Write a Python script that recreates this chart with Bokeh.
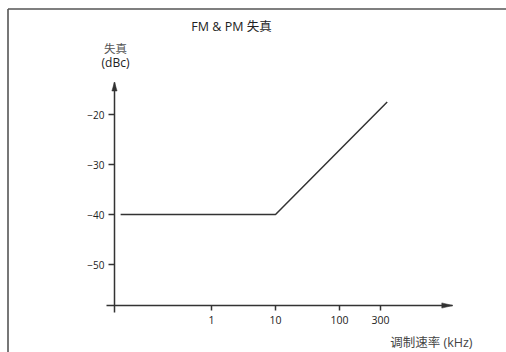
from bokeh.plotting import figure
from bokeh.models import (Range1d, LinearAxis, FixedTicker, CustomJSTickFormatter,
                          Label)
from bokeh.embed import file_html
from bokeh.resources import INLINE

# ---- data (schematic decade positions on the frequency axis: 1 kHz = 0) ----
freq_tick_labels = ["1", "10", "100", "300"]
freq_tick_pos = [0.0, 1.0, 2.0, 2.64]
dist_ticks = [-50, -40, -30, -20]
curve_x = [-1.42, 1.0, 2.745]
curve_y = [-40, -40, -17.5]

title_text = "FM & PM 失真"
ylabel_top = "失真"
ylabel_unit = "(dBc)"
xlabel_text = "调制速率 (kHz)"

# axis extents (data units)
x_axis_at_y = -58.2
y_axis_at_x = -1.516
x_axis_bounds = (-1.64, 3.77)
y_axis_bounds = (-59.5, -13.5)

W, H = 506, 352
X0, X1 = -3.297, 4.609
Y0, Y1 = -67.6, 2.8

FONT = "Open Sans, Noto Sans CJK SC"
INK = "#333333"

p = figure(width=W, height=H, x_range=Range1d(X0, X1), y_range=Range1d(Y0, Y1),
           output_backend="svg", toolbar_location=None, min_border=0,
           x_axis_type=None, y_axis_type=None)
p.outline_line_color = None
p.background_fill_color = "white"
p.border_fill_color = "white"

sx = (X1 - X0) / W   # data units per pixel
sy = (Y1 - Y0) / H

def dx(px):
    return X0 + px * sx

def dy(py):
    return Y1 - py * sy

# border of the surrounding box (its right and bottom edges lie outside the picture)
bx, by = dx(7.5), dy(8.5)
p.segment(x0=[bx, bx], y0=[by, by], x1=[bx, dx(700)], y1=[dy(700), by],
          line_color="#555555", line_width=1.6)

# y axis
yax = LinearAxis(fixed_location=y_axis_at_x, bounds=y_axis_bounds,
                 ticker=FixedTicker(ticks=dist_ticks))
yax.axis_line_color = INK
yax.axis_line_width = 1.5
yax.major_tick_line_color = INK
yax.major_tick_line_width = 1.5
yax.major_tick_in = 0
yax.major_tick_out = 6
yax.minor_tick_line_color = None
yax.major_label_text_font = FONT
yax.major_label_text_font_size = "10px"
yax.major_label_text_color = "#222222"
yax.major_label_standoff = 4
p.add_layout(yax, "left")

# x axis
xax = LinearAxis(fixed_location=x_axis_at_y, bounds=x_axis_bounds,
                 ticker=FixedTicker(ticks=freq_tick_pos),
                 formatter=CustomJSTickFormatter(args=dict(names=freq_tick_labels),
                                                 code="return names[index]"))
xax.axis_line_color = INK
xax.axis_line_width = 1.5
xax.major_tick_line_color = INK
xax.major_tick_line_width = 1.5
xax.major_tick_in = 0
xax.major_tick_out = 5
xax.minor_tick_line_color = None
xax.major_label_text_font = FONT
xax.major_label_text_font_size = "10.5px"
xax.major_label_text_color = "#222222"
xax.major_label_standoff = 5
p.add_layout(xax, "below")

# arrow heads at the axis ends
xl, xw = 11 * sx, 2.6 * sy
xt = x_axis_bounds[1]
p.patch([xt, xt - xl, xt - xl], [x_axis_at_y, x_axis_at_y + xw, x_axis_at_y - xw],
        color=INK, line_width=0.5)
yl, yw = 9 * sy, 2.6 * sx
yt = y_axis_bounds[1]
p.patch([y_axis_at_x, y_axis_at_x - yw, y_axis_at_x + yw], [yt, yt - yl, yt - yl],
        color=INK, line_width=0.5)

# the curve
p.line(curve_x, curve_y, line_color=INK, line_width=1.5)

# texts
p.add_layout(Label(x=dx(231), y=dy(25.5), text=title_text, text_align="center",
                   text_baseline="middle", text_font=FONT, text_font_size="12.5px",
                   text_color="#222222"))
p.add_layout(Label(x=dx(115), y=dy(48), text=ylabel_top, text_align="center",
                   text_baseline="middle", text_font=FONT, text_font_size="11.5px",
                   text_color="#555555"))
p.add_layout(Label(x=dx(115), y=dy(61.5), text=ylabel_unit, text_align="center",
                   text_baseline="middle", text_font=FONT, text_font_size="12px",
                   text_color="#222222"))
p.add_layout(Label(x=dx(472), y=dy(342), text=xlabel_text, text_align="right",
                   text_baseline="middle", text_font=FONT, text_font_size="12.5px",
                   text_color="#444444"))

open("out.html", "w").write(file_html(p, INLINE))
